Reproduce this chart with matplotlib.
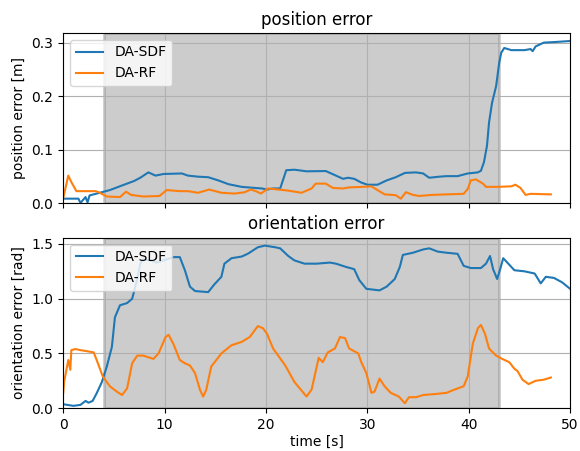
import matplotlib
matplotlib.use("Agg")
import matplotlib.pyplot as plt

# position error, DA-SDF
pos_sdf_t = [0, 1.5, 1.7, 2.2, 2.4, 2.6, 3.2, 4.0, 4.6, 6.0, 7.0, 7.6, 8.4, 9.1, 9.9, 11.7,
             12.3, 13.3, 14.3, 15.3, 16.3, 17.6, 18.9, 19.6, 20.1, 20.7, 21.4, 22.0, 22.8,
             24.0, 25.9, 26.9, 27.6, 28.1, 28.7, 29.4, 30.0, 31.0, 31.9, 32.8, 33.7, 34.8,
             35.5, 36.1, 37.1, 37.8, 38.9, 39.9, 40.9, 41.2, 41.5, 41.8, 42.0, 42.3, 42.7,
             43.0, 43.2, 43.5, 44.2, 45.5, 46.1, 46.3, 46.6, 47.4, 48.4, 50.0]
pos_sdf = [0.009, 0.009, 0.001, 0.012, 0.002, 0.015, 0.018, 0.022, 0.025, 0.035, 0.042, 0.048,
           0.058, 0.052, 0.055, 0.056, 0.052, 0.050, 0.049, 0.043, 0.036, 0.031, 0.029, 0.028,
           0.026, 0.028, 0.028, 0.062, 0.063, 0.060, 0.0605, 0.052, 0.046, 0.048, 0.046, 0.039,
           0.035, 0.035, 0.043, 0.049, 0.057, 0.058, 0.056, 0.048, 0.050, 0.051, 0.051, 0.056,
           0.058, 0.061, 0.077, 0.108, 0.151, 0.188, 0.219, 0.262, 0.281, 0.290, 0.286, 0.286,
           0.288, 0.284, 0.293, 0.300, 0.301, 0.303]

# position error, DA-RF
pos_rf_t = [0, 0.5, 0.8, 1.3, 3.2, 3.5, 4.3, 5.6, 6.2, 6.7, 7.9, 9.5, 10.2, 11.5, 12.3, 13.3,
            14.4, 15.6, 16.9, 17.9, 18.5, 19.0, 19.5, 20.2, 21.2, 22.2, 23.5, 24.5, 24.9, 25.9,
            26.6, 27.6, 28.2, 29.6, 30.4, 31.0, 31.7, 32.8, 33.3, 33.8, 34.5, 35.1, 36.4, 37.8,
            39.5, 39.9, 40.2, 40.7, 41.4, 41.7, 42.9, 44.2, 44.6, 45.1, 45.6, 46.1, 47.1, 48.1]
pos_rf = [0.01, 0.052, 0.04, 0.023, 0.023, 0.021, 0.013, 0.012, 0.022, 0.016, 0.013, 0.014,
          0.025, 0.023, 0.023, 0.020, 0.026, 0.020, 0.0185, 0.021, 0.026, 0.023, 0.0185, 0.028,
          0.026, 0.024, 0.020, 0.028, 0.037, 0.037, 0.029, 0.028, 0.030, 0.031, 0.032, 0.025,
          0.017, 0.0155, 0.009, 0.021, 0.016, 0.014, 0.016, 0.017, 0.018, 0.027, 0.043, 0.045,
          0.037, 0.031, 0.031, 0.032, 0.035, 0.029, 0.016, 0.018, 0.0175, 0.017]

# orientation error, DA-SDF
ori_sdf_t = [0, 1.0, 1.7, 2.2, 2.5, 2.9, 3.3, 3.8, 4.3, 4.8, 5.1, 5.6, 6.3, 6.8, 7.3, 7.6, 7.9,
             8.6, 9.2, 9.9, 10.9, 11.5, 12.0, 12.5, 13.0, 14.3, 14.9, 15.6, 15.9, 16.6, 17.6,
             18.2, 19.2, 19.9, 20.9, 21.4, 22.2, 22.8, 23.8, 25.0, 26.3, 26.9, 27.9, 28.7, 29.2,
             29.9, 31.2, 31.9, 32.7, 33.2, 33.5, 34.5, 35.5, 36.1, 36.95, 37.8, 38.9, 39.5, 40.2,
             41.2, 41.7, 42.1, 42.4, 42.8, 43.1, 43.4, 43.8, 44.5, 45.5, 46.5, 47.1, 47.6, 48.4,
             49.2, 50.0]
ori_sdf = [0.036, 0.021, 0.03, 0.066, 0.05, 0.066, 0.136, 0.236, 0.38, 0.56, 0.83, 0.94, 0.96,
           1.0, 1.18, 1.32, 1.36, 1.35, 1.33, 1.35, 1.38, 1.38, 1.26, 1.11, 1.07, 1.06, 1.13,
           1.20, 1.32, 1.37, 1.385, 1.41, 1.47, 1.485, 1.47, 1.46, 1.39, 1.35, 1.32, 1.32, 1.33,
           1.32, 1.29, 1.27, 1.17, 1.09, 1.076, 1.11, 1.18, 1.29, 1.40, 1.42, 1.45, 1.46, 1.43,
           1.42, 1.41, 1.30, 1.28, 1.28, 1.32, 1.39, 1.27, 1.18, 1.27, 1.37, 1.33, 1.26, 1.25,
           1.23, 1.14, 1.20, 1.19, 1.15, 1.09]

# orientation error, DA-RF
ori_rf_t = [0, 0.1, 0.5, 0.7, 0.8, 1.2, 1.7, 3.0, 3.3, 3.9, 4.6, 5.3, 5.8, 6.3, 6.8, 7.3, 7.9,
            8.9, 9.4, 10.1, 10.4, 10.9, 11.5, 12.0, 12.5, 13.0, 13.5, 13.8, 14.1, 14.6, 15.1,
            15.6, 16.6, 17.6, 18.4, 19.2, 19.7, 20.1, 20.7, 21.9, 22.8, 24.0, 24.5, 25.2, 25.6,
            26.1, 26.8, 27.3, 27.8, 28.2, 29.1, 29.4, 29.9, 30.4, 30.7, 31.2, 31.7, 32.3, 33.1,
            33.7, 34.1, 34.8, 35.5, 36.8, 37.8, 38.6, 39.5, 39.9, 40.4, 40.9, 41.2, 41.6, 42.0,
            42.7, 43.3, 44.0, 44.5, 44.8, 45.3, 45.9, 46.6, 47.4, 48.1]
ori_rf = [0.14, 0.245, 0.44, 0.35, 0.53, 0.54, 0.53, 0.51, 0.44, 0.29, 0.20, 0.15, 0.12, 0.18,
          0.41, 0.48, 0.48, 0.45, 0.50, 0.65, 0.67, 0.58, 0.44, 0.41, 0.39, 0.32, 0.165, 0.106,
          0.165, 0.38, 0.44, 0.50, 0.575, 0.605, 0.65, 0.75, 0.73, 0.68, 0.545, 0.39, 0.24,
          0.106, 0.17, 0.46, 0.42, 0.51, 0.545, 0.65, 0.64, 0.545, 0.50, 0.42, 0.32, 0.14, 0.15,
          0.27, 0.20, 0.14, 0.106, 0.045, 0.10, 0.10, 0.12, 0.13, 0.14, 0.17, 0.20, 0.29, 0.59,
          0.73, 0.76, 0.68, 0.545, 0.48, 0.45, 0.42, 0.36, 0.34, 0.26, 0.22, 0.25, 0.26, 0.28]

span_start, span_end = 4, 43


def plot_panel(ax, t1, y1, t2, y2, title, ylabel):
    ax.axvspan(span_start, span_end, color='gray', alpha=0.4, linewidth=2)
    ax.plot(t1, y1, label="DA-SDF", linewidth=1.5)
    ax.plot(t2, y2, label="DA-RF", linewidth=1.5)
    ax.set_title(title)
    ax.set_ylabel(ylabel)
    ax.set_ylim(bottom=0)
    ax.grid(True)
    ax.legend(loc="upper left")


fig, (ax1, ax2) = plt.subplots(2, 1, sharex=True, figsize=(5.8, 4.51), dpi=100)
plot_panel(ax1, pos_sdf_t, pos_sdf, pos_rf_t, pos_rf, "position error", "position error [m]")
plot_panel(ax2, ori_sdf_t, ori_sdf, ori_rf_t, ori_rf, "orientation error", "orientation error [rad]")
ax2.set_xlim(0, 50)
ax2.set_xlabel("time [s]", labelpad=2)
fig.subplots_adjust(left=0.109, right=0.983, top=0.927, bottom=0.095, hspace=0.2)
fig.savefig("out.png")
